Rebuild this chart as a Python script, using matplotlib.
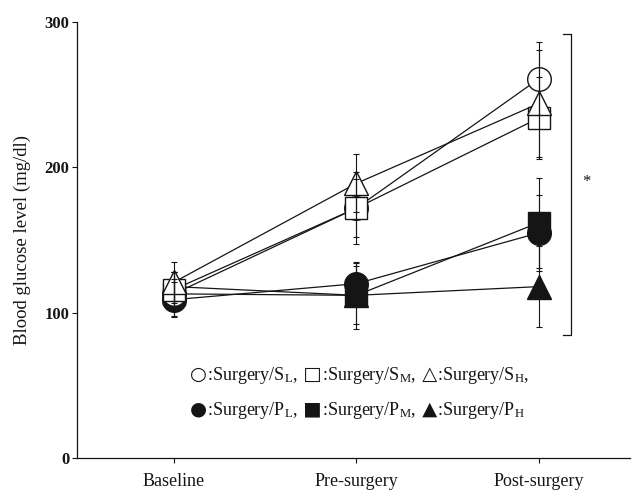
import numpy as np
import matplotlib
matplotlib.use('Agg')
import matplotlib.pyplot as plt
from matplotlib.offsetbox import TextArea, HPacker, AnnotationBbox

plt.rcParams['font.family'] = ['Liberation Serif', 'DejaVu Sans']
plt.rcParams['mathtext.fontset'] = 'custom'
plt.rcParams['mathtext.rm'] = 'Liberation Serif'
plt.rcParams['mathtext.it'] = 'Liberation Serif'

stages = ['Baseline', 'Pre-surgery', 'Post-surgery']

# mean blood glucose (mg/dl) and error for each group
s_low = [113, 172, 261]
s_low_err = [10, 20, 25]
s_mid = [116, 172, 234]
s_mid_err = [12, 25, 28]
s_high = [121, 189, 244]
s_high_err = [14, 20, 37]
p_low = [109, 120, 155]
p_low_err = [12, 14, 26]
p_mid = [113, 112, 162]
p_mid_err = [15, 23, 31]
p_high = [118, 112, 118]
p_high_err = [10, 20, 28]

# significance bracket span at post-surgery
bracket_top = 292
bracket_bottom = 85

ink = '#151515'
x = np.arange(len(stages))

fig = plt.figure(figsize=(6.32, 4.91), dpi=100)
ax = fig.add_axes([0.122, 0.067, 0.875, 0.888])

# filled groups first, open groups on top of them
series = [
    (p_high, p_high_err, '^', ink),
    (p_mid, p_mid_err, 's', ink),
    (p_low, p_low_err, 'o', ink),
    (s_low, s_low_err, 'o', 'white'),
    (s_mid, s_mid_err, 's', 'white'),
    (s_high, s_high_err, '^', 'white'),
]
for vals, errs, mk, face in series:
    ms = 17 if mk != 's' else 16
    ax.plot(x, vals, color=ink, lw=0.9, marker=mk, ms=ms, mfc=face,
            mec=ink, mew=1.0, zorder=2)
    ax.errorbar(x, vals, yerr=errs, fmt='none', ecolor=ink, elinewidth=0.8,
                capsize=2.5, capthick=0.8, zorder=3)

# bracket and asterisk
bx = 2.175
ax.plot([bx - 0.045, bx, bx, bx - 0.045],
        [bracket_top, bracket_top, bracket_bottom, bracket_bottom],
        color=ink, lw=0.9, clip_on=False)
ax.text(2.262, 190, '*', ha='center', va='center', fontsize=12, color=ink)

# group key drawn as two rows of text
sym = dict(family='DejaVu Sans', fontsize=14, color=ink)
txt = dict(family='Liberation Serif', fontsize=13, color=ink)
rows = [
    [('○', ':Surgery/S$_\\mathrm{L}$,'), (' □', ':Surgery/S$_\\mathrm{M}$,'),
     (' △', ':Surgery/S$_\\mathrm{H}$,')],
    [('●', ':Surgery/P$_\\mathrm{L}$,'), (' ■', ':Surgery/P$_\\mathrm{M}$,'),
     (' ▲', ':Surgery/P$_\\mathrm{H}$')],
]
for row, yrow in zip(rows, [57, 33]):
    parts = []
    for s, t in row:
        parts.append(TextArea(s, textprops=sym))
        parts.append(TextArea(t, textprops=txt))
    box = HPacker(children=parts, align='baseline', pad=0, sep=0)
    ab = AnnotationBbox(box, (0.087, yrow), xycoords='data',
                        box_alignment=(0, 0.5), frameon=False, pad=0)
    ax.add_artist(ab)

ax.set_xlim(-0.53, 2.5)
ax.set_ylim(0, 300)
ax.set_xticks(x)
ax.set_xticklabels(stages, fontsize=13, color=ink)
ax.set_yticks([0, 100, 200, 300])
ax.set_yticklabels(['0', '100', '200', '300'], fontsize=12,
                   fontweight='bold', color=ink)
ax.tick_params(axis='both', direction='out', length=3.5, width=0.8, color=ink)
ax.tick_params(axis='x', pad=7)
ax.tick_params(axis='y', pad=2)
ax.set_ylabel('Blood glucose level (mg/dl)', fontsize=13.5, color=ink,
              labelpad=10)

for side in ['top', 'right']:
    ax.spines[side].set_visible(False)
for side in ['left', 'bottom']:
    ax.spines[side].set_linewidth(0.9)
    ax.spines[side].set_color(ink)

fig.savefig('out.png', dpi=100)
